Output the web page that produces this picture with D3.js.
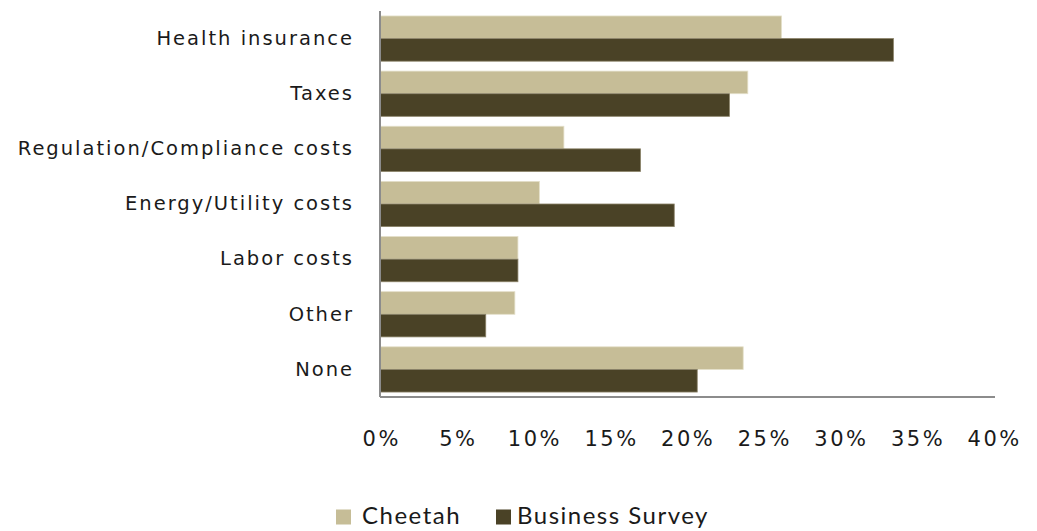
<!DOCTYPE html>
<html>
<head>
<meta charset="utf-8">
<script src="https://cdn.jsdelivr.net/npm/d3@7"></script>
<style>
  html, body { margin: 0; padding: 0; background: #fff; }
  svg { display: block; }
</style>
</head>
<body>
<svg id="chart" width="1037" height="531"></svg>
<script>
// Cost pressures named by respondents, share of answers
const categories = ["Health insurance", "Taxes", "Regulation/Compliance costs", "Energy/Utility costs", "Labor costs", "Other", "None"];
const seriesNames = ["Cheetah", "Business Survey"];
const cheetahValues = [26.2, 24.0, 12.0, 10.4, 9.0, 8.8, 23.7];
const businessValues = [33.5, 22.8, 17.0, 19.2, 9.0, 6.9, 20.7];
const tickValues = [0, 5, 10, 15, 20, 25, 30, 35, 40];

const colors = ["#c6bd97", "#4a4226"];
const seriesValues = [cheetahValues, businessValues];

const svg = d3.select("#chart");
const plotLeft = 380, plotRight = 993, plotTop = 11, plotBottom = 397;

const x = d3.scaleLinear().domain([0, 40]).range([plotLeft, plotRight]);
const y = d3.scaleBand().domain(categories).range([plotTop, plotBottom]).paddingInner(0.18).paddingOuter(0.09);
const ySub = d3.scaleBand().domain(seriesNames).range([0, y.bandwidth()]);

// bars
const groups = svg.append("g").selectAll("g")
  .data(categories)
  .join("g")
  .attr("transform", d => `translate(0,${y(d)})`);

groups.selectAll("rect")
  .data((d, i) => seriesNames.map((s, k) => ({ s, k, v: seriesValues[k][i] })))
  .join("rect")
  .attr("x", x(0))
  .attr("y", d => ySub(d.s))
  .attr("width", d => x(d.v) - x(0))
  .attr("height", ySub.bandwidth())
  .attr("fill", d => colors[d.k])
  .attr("stroke", d => d.k === 0 ? "#e4dfc9" : "#8a8268")
  .attr("stroke-width", 0.8);

// category axis
const yAxis = svg.append("g")
  .attr("transform", `translate(${plotLeft},0)`)
  .call(d3.axisLeft(y).tickSize(0).tickPadding(26));
yAxis.select(".domain").remove();
yAxis.append("line")
  .attr("x1", 0).attr("x2", 0).attr("y1", plotTop).attr("y2", plotBottom)
  .attr("stroke", "#8c8c8c").attr("stroke-width", 2);
yAxis.selectAll("text")
  .attr("font-family", "DejaVu Sans, sans-serif")
  .attr("font-size", 19.5)
  .attr("letter-spacing", 2)
  .attr("fill", "#1a1a1a");

// value axis
const xAxis = svg.append("g")
  .attr("transform", `translate(0,${plotBottom})`)
  .call(d3.axisBottom(x).tickValues(tickValues).tickFormat(d => d + "%").tickSize(0).tickPadding(34));
xAxis.select(".domain").remove();
xAxis.append("line")
  .attr("x1", plotLeft).attr("x2", plotRight + 2).attr("y1", 0).attr("y2", 0)
  .attr("stroke", "#8c8c8c").attr("stroke-width", 2);
xAxis.selectAll("text")
  .attr("font-family", "DejaVu Sans, sans-serif")
  .attr("font-size", 21)
  .attr("letter-spacing", 2.5)
  .attr("dx", 1.2)
  .attr("fill", "#1a1a1a");

// legend
const legend = svg.append("g").attr("transform", "translate(0,516)");
const legendX = [336, 496];
const legendGap = [26, 21];
seriesNames.forEach((s, k) => {
  legend.append("rect")
    .attr("x", legendX[k]).attr("y", -6.5).attr("width", 15).attr("height", 15)
    .attr("fill", colors[k]);
  legend.append("text")
    .attr("x", legendX[k] + legendGap[k]).attr("y", 0).attr("dy", "0.35em")
    .attr("font-family", "Lato, sans-serif")
    .attr("font-size", 24)
    .attr("letter-spacing", 1.5)
    .attr("fill", "#1a1a1a")
    .text(s);
});
</script>
</body>
</html>
